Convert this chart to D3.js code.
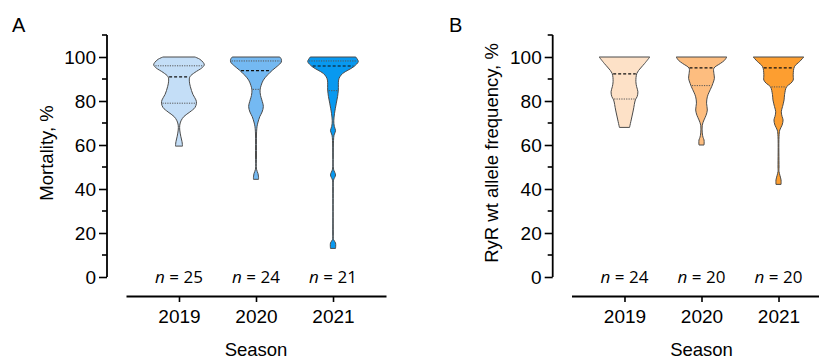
<!DOCTYPE html>
<html>
<head>
<meta charset="utf-8">
<script src="https://cdn.jsdelivr.net/npm/d3@7"></script>
<style>
  body { margin: 0; background: #fff; }
  svg { display: block; font-family: "Liberation Sans", Arial, sans-serif; }
</style>
</head>
<body>
<svg id="chart" width="819" height="360"></svg>
<script>
// Seasons on the x axis
const seasons = ["2019", "2020", "2021"];
const yTicks = [0, 20, 40, 60, 80, 100];

// Panel A - mortality, %: violin outlines as [value, relative density]
const mortality2019 = [[100,.63],[99,.82],[97.5,.96],[96.4,1],[95,.9],[93,.63],[91,.43],[89,.41],[86.5,.45],[83,.55],[80.5,.67],[79,.69],[77,.63],[75,.43],[73,.2],[71,.08],[69,.03],[66.8,.03],[64,.07],[61.5,.12],[59.5,.14]];
const mortality2020 = [[100,.94],[99,1],[97.7,1],[96,.86],[94,.65],[92,.47],[89.5,.29],[87,.2],[85,.16],[82.5,.18],[80.5,.23],[77.5,.29],[75,.24],[72.9,.15],[70,.07],[68.3,.04],[65,.02],[55,.02],[49,.02],[47,.08],[45.5,.1],[44.4,.1]];
const mortality2021 = [[100,.9],[99,.96],[97.9,1],[95.6,.82],[94,.59],[92.6,.39],[91,.27],[89.5,.22],[85,.21],[82,.18],[79,.13],[76.5,.09],[74.4,.06],[71,.03],[68.5,.05],[66.5,.1],[64.5,.04],[62,.02],[55,.01],[49,.02],[46.4,.1],[44,.02],[40,.01],[20,.01],[17,.02],[15.5,.1],[13,.1]];
// quartiles [Q1, median, Q3]
const mortalityQuartiles = [[79, 91, 96], [85.3, 93.8, 98.2], [84.7, 95.9, 98.2]];
const mortalityN = [25, 24, 21];

// Panel B - RyR wt allele frequency, %
const ryr2019 = [[100,1],[97.1,.8],[95,.64],[92.6,.49],[88.8,.45],[86.5,.48],[84.2,.53],[82,.5],[80.5,.43],[75.9,.35],[70.6,.25],[68,.2]];
const ryr2020 = [[100,1],[98.5,.91],[97.1,.75],[94.9,.49],[92.5,.49],[90.3,.51],[88,.45],[86.5,.4],[84,.3],[81.9,.23],[79,.2],[75.9,.23],[73.5,.18],[71.4,.1],[69,.03],[65.5,.03],[63.5,.06],[62.3,.1],[60,.1]];
const ryr2021 = [[100,1],[98,.84],[95.6,.63],[92,.58],[89.5,.58],[88,.48],[86.5,.32],[83,.24],[80.5,.22],[77.5,.16],[75.1,.11],[73,.14],[71.4,.18],[69,.14],[66.8,.05],[63.8,.02],[50,.02],[47.9,.02],[46,.06],[44.1,.1],[42.1,.1]];
const ryrQuartiles = [[80.9, 92.3, 100], [87, 95.1, 100], [86.4, 95.1, 100]];
const ryrN = [24, 20, 20];

const blues = ["#c4def7", "#74b9f2", "#0899f0"];
const oranges = ["#fde1c7", "#fdbd7f", "#fd9e30"];

const svg = d3.select("#chart");

function drawPanel(opt) {
  const g = svg.append("g");

  const y = d3.scaleLinear().domain([0, 110]).range([277, 35]);
  const x = d3.scalePoint().domain(seasons).range([opt.x0, opt.x0 + 260]).padding(0.688);
  const w = d3.scaleLinear().domain([0, 1]).range([0, 25.3]);

  // violins
  opt.violins.forEach(function(prof, i) {
    const cx = x(seasons[i]);
    const area = d3.area()
      .y(d => y(d[0]))
      .x0(d => cx - Math.max(w(d[1]), 0.3))
      .x1(d => cx + Math.max(w(d[1]), 0.3))
      .curve(d3.curveCatmullRom);
    g.append("path")
      .datum(prof)
      .attr("d", area)
      .attr("fill", opt.colors[i])
      .attr("stroke", "#4a4a4a")
      .attr("stroke-width", 1);

    // half width at any value, for the quartile lines
    const hw = d3.scaleLinear().domain(prof.map(d => d[0])).range(prof.map(d => w(d[1])));
    opt.quartiles[i].forEach(function(q, k) {
      if (q >= 100) return;
      const h = hw(q) - 1;
      g.append("line")
        .attr("x1", cx - h).attr("x2", cx + h)
        .attr("y1", y(q)).attr("y2", y(q))
        .attr("stroke", k === 1 ? "#111" : "#555")
        .attr("stroke-width", k === 1 ? 1.2 : 1)
        .attr("stroke-dasharray", k === 1 ? "3,2" : "1.2,1.2");
    });

    // n labels
    g.append("text")
      .attr("x", cx).attr("y", 283)
      .attr("text-anchor", "middle")
      .style("font-family", "'Open Sans', sans-serif")
      .style("font-size", "17px")
      .html(`<tspan font-style="italic">n</tspan> = ${opt.n[i]}`);
  });

  // y axis
  const yAxis = g.append("g")
    .attr("transform", `translate(${opt.yAxisX},0)`)
    .call(d3.axisLeft(y).tickValues(yTicks).tickSize(8).tickSizeOuter(0).tickPadding(3));
  yAxis.select(".domain").attr("stroke-width", 1.8).attr("d", `M0,${y(110)}V${y(0)}`);
  yAxis.selectAll(".tick line").attr("stroke-width", 1.6);
  yAxis.selectAll(".tick text").style("font-size", "19px").attr("dy", "0.36em");
  yAxis.selectAll(".minor")
    .data([10, 30, 50, 70, 90, 110])
    .enter().append("line")
    .attr("x1", -5).attr("x2", 0)
    .attr("y1", d => y(d)).attr("y2", d => y(d))
    .attr("stroke", "#000").attr("stroke-width", 1.6);

  // x axis
  const xAxis = g.append("g")
    .attr("transform", "translate(0,296)")
    .call(d3.axisBottom(x).tickSize(6).tickSizeOuter(0).tickPadding(8));
  xAxis.select(".domain").attr("stroke-width", 1.8);
  xAxis.selectAll(".tick line").attr("stroke-width", 1.6);
  xAxis.selectAll(".tick text").style("font-size", "19px");

  // axis titles
  g.append("text")
    .attr("transform", "rotate(-90)")
    .attr("x", -153).attr("y", opt.labelX)
    .attr("text-anchor", "middle")
    .style("font-size", "18.5px")
    .text(opt.yLabel);

  g.append("text")
    .attr("x", x("2020")).attr("y", 356)
    .attr("text-anchor", "middle")
    .style("font-size", "18.5px")
    .text("Season");

  // panel letter
  g.append("text")
    .attr("x", opt.letterX).attr("y", 32)
    .style("font-size", "20px")
    .text(opt.letter);
}

drawPanel({
  letter: "A", letterX: 12, x0: 126, yAxisX: 107, labelX: 53,
  yLabel: "Mortality, %",
  violins: [mortality2019, mortality2020, mortality2021],
  quartiles: mortalityQuartiles, n: mortalityN, colors: blues
});

drawPanel({
  letter: "B", letterX: 449, x0: 571.5, yAxisX: 552.7, labelX: 498,
  yLabel: "RyR wt allele frequency, %",
  violins: [ryr2019, ryr2020, ryr2021],
  quartiles: ryrQuartiles, n: ryrN, colors: oranges
});
</script>
</body>
</html>
